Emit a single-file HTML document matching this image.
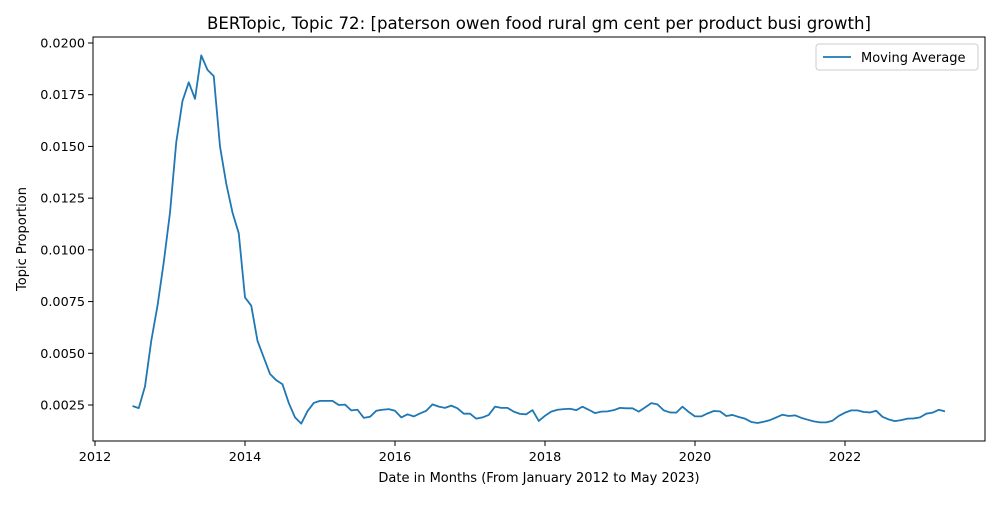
<!DOCTYPE html>
<html><head><meta charset="utf-8"><style>
body{margin:0;background:#fff;font-family:"Liberation Sans","DejaVu Sans",sans-serif}
svg text{font-family:"DejaVu Sans","Liberation Sans",sans-serif;fill:#000}
</style></head><body>
<svg id="chart" width="1000" height="500" viewBox="0 0 1000 500" xmlns="http://www.w3.org/2000/svg">
<rect width="1000" height="500" fill="#fff"/>
<text x="539" y="29" font-size="16.6" text-anchor="middle">BERTopic, Topic 72: [paterson owen food rural gm cent per product busi growth]</text>
<g id="yticks"></g>
<g id="xticks"></g>
<path id="line" fill="none" stroke="#1f77b4" stroke-width="1.8" stroke-linejoin="round"/>
<rect x="93" y="37" width="892" height="404" fill="none" stroke="#000" stroke-width="1"/>
<text transform="translate(26,239) rotate(-90)" font-size="13" text-anchor="middle">Topic Proportion</text>
<text x="539" y="482" font-size="13" text-anchor="middle">Date in Months (From January 2012 to May 2023)</text>
<g>
<rect x="816" y="44" width="162" height="26" rx="3" fill="#fff" stroke="#ccc"/>
<line x1="823" y1="57" x2="851" y2="57" stroke="#1f77b4" stroke-width="1.8"/>
<text x="861" y="62" font-size="13">Moving Average</text>
</g>
</svg>
<script>
const startYear = 2012.5;
const values = [
0.00245,0.00235,0.0034,0.0056,0.0073,0.0094,0.0118,0.0152,0.0172,0.0181,0.0173,0.0194,0.0187,0.0184,0.0150,0.0132,0.0118,0.0108,0.0077,0.0073,0.0056,0.0048,0.0040,0.0037,0.0035,0.0026,0.0019,0.0016,0.0022,0.0026,0.0027,0.0027,0.0027,0.0025,
0.00252,0.00224,0.00227,0.00188,0.00193,0.00222,0.00227,0.00230,0.00222,0.00190,0.00205,0.00195,0.00209,0.00222,0.00253,0.00242,0.00236,0.00247,0.00234,0.00208,0.00208,0.00184,0.00190,0.00202,0.00242,0.00236,0.00236,0.00218,0.00207,0.00205,0.00225,0.00173,0.00198,0.00218,0.00227,0.00230,0.00232,0.00225,0.00242,0.00227,0.00211,0.00218,0.00219,0.00225,0.00236,0.00234,0.00234,
0.00218,0.00238,0.00259,0.00253,0.00224,0.00214,0.00213,0.00242,0.00216,0.00195,0.00195,0.00209,0.00221,0.00219,0.00197,0.00202,0.00192,0.00184,0.00168,0.00163,0.00169,0.00177,0.00190,0.00203,0.00197,0.00200,0.00188,0.00179,0.00171,0.00166,0.00166,0.00174,0.00197,0.00213,0.00224,0.00224,0.00216,0.00214,0.00222,0.00193,0.00180,0.00172,0.00177,0.00184,0.00185,0.00190,0.00208,0.00213,0.00227,0.00219
];
const yTicks = [0.0025,0.0050,0.0075,0.0100,0.0125,0.0150,0.0175,0.0200];
const xTicks = [2012,2014,2016,2018,2020,2022];
function xs(yr){return 95+(yr-2012)*75;}
function ys(v){return 43+(0.02-v)*(362/0.0175);}
const NS="http://www.w3.org/2000/svg";
const yg=document.getElementById('yticks'), xg=document.getElementById('xticks');
yTicks.forEach(t=>{
 const y=ys(t);
 const l=document.createElementNS(NS,'line');
 l.setAttribute('x1',88);l.setAttribute('x2',93);l.setAttribute('y1',y);l.setAttribute('y2',y);l.setAttribute('stroke','#000');
 
 
 yg.appendChild(l);
 const tx=document.createElementNS(NS,'text');
 tx.setAttribute('x',85);tx.setAttribute('y',y+4.5);tx.setAttribute('font-size','12.8');tx.setAttribute('text-anchor','end');
 tx.textContent=t.toFixed(4);
 
 
 yg.appendChild(tx);
});
xTicks.forEach(t=>{
 const x=xs(t);
 const l=document.createElementNS(NS,'line');
 l.setAttribute('x1',x);l.setAttribute('x2',x);l.setAttribute('y1',441);l.setAttribute('y2',446);l.setAttribute('stroke','#000');
 
 
 xg.appendChild(l);
 const tx=document.createElementNS(NS,'text');
 tx.setAttribute('x',x);tx.setAttribute('y',461);tx.setAttribute('font-size','12.8');tx.setAttribute('text-anchor','middle');
 tx.textContent=t;
 
 
 xg.appendChild(tx);
});
document.getElementById('line').setAttribute('d',values.map((v,i)=>(i?'L':'M')+xs(startYear+i/12).toFixed(2)+','+ys(v).toFixed(2)).join(''));
</script>
</body></html>
